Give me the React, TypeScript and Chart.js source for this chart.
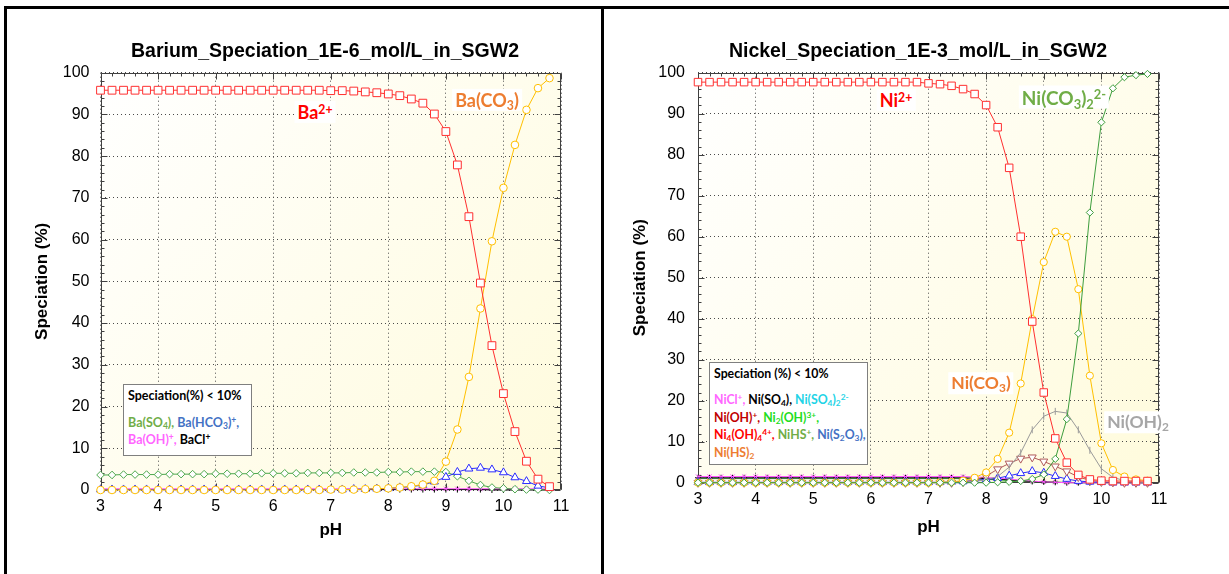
import React, { useEffect, useRef } from "react";
import { Chart, registerables } from "chart.js";
Chart.register(...registerables);

// ---------- DATA ----------
const PH = [3.0, 3.2, 3.4, 3.6, 3.8, 4.0, 4.2, 4.4, 4.6, 4.8, 5.0, 5.2, 5.4, 5.6, 5.8, 6.0, 6.2, 6.4, 6.6, 6.8, 7.0, 7.2, 7.4, 7.6, 7.8, 8.0, 8.2, 8.4, 8.6, 8.8, 9.0, 9.2, 9.4, 9.6, 9.8, 10.0, 10.2, 10.4, 10.6, 10.8];
const X_TICKS = [3, 4, 5, 6, 7, 8, 9, 10, 11];
const Y_TICKS = [0, 10, 20, 30, 40, 50, 60, 70, 80, 90, 100];

// Barium
const BA_2PLUS = [95.8, 95.8, 95.8, 95.8, 95.8, 95.8, 95.8, 95.8, 95.8, 95.8, 95.8, 95.8, 95.8, 95.8, 95.8, 95.8, 95.8, 95.8, 95.8, 95.8, 95.7, 95.7, 95.6, 95.4, 95.2, 94.9, 94.5, 93.7, 92.7, 90.1, 85.9, 77.9, 65.5, 49.6, 34.6, 23.1, 14.0, 6.9, 2.6, 0.8];
const BA_CO3 = [0.0, 0.0, 0.0, 0.0, 0.0, 0.0, 0.0, 0.0, 0.0, 0.0, 0.0, 0.0, 0.0, 0.0, 0.0, 0.0, 0.0, 0.0, 0.0, 0.0, 0.1, 0.1, 0.1, 0.2, 0.3, 0.4, 0.6, 0.9, 1.3, 2.2, 6.8, 14.5, 27.1, 43.5, 59.6, 72.4, 82.7, 91.1, 96.3, 98.7];
const BA_SO4 = [3.6, 3.6, 3.7, 3.7, 3.7, 3.7, 3.8, 3.8, 3.8, 3.8, 3.9, 3.9, 3.9, 3.9, 4.0, 4.0, 4.0, 4.0, 4.1, 4.1, 4.1, 4.1, 4.2, 4.2, 4.2, 4.3, 4.3, 4.4, 4.4, 4.4, 4.3, 3.3, 2.2, 1.2, 0.6, 0.4, 0.2, 0.1, 0.1, 0.0];
const BA_HCO3 = [0.1, 0.1, 0.1, 0.1, 0.1, 0.1, 0.1, 0.1, 0.1, 0.1, 0.1, 0.1, 0.1, 0.1, 0.1, 0.1, 0.1, 0.1, 0.1, 0.1, 0.1, 0.1, 0.2, 0.2, 0.3, 0.4, 0.6, 0.8, 1.2, 2.0, 3.1, 4.3, 5.1, 5.3, 4.9, 4.2, 3.0, 2.1, 1.0, 0.5];
const BA_OH = [0.3, 0.3, 0.3, 0.3, 0.3, 0.3, 0.3, 0.3, 0.3, 0.3, 0.3, 0.3, 0.3, 0.3, 0.3, 0.3, 0.3, 0.3, 0.3, 0.3, 0.3, 0.3, 0.3, 0.3, 0.3, 0.3, 0.3, 0.3, 0.3, 0.3, 0.3, 0.3, 0.3, 0.3, 0.3, 0.3, 0.3, 0.3, 0.3, 0.3];
const BA_CL = [0.1, 0.1, 0.1, 0.1, 0.1, 0.1, 0.1, 0.1, 0.1, 0.1, 0.1, 0.1, 0.1, 0.1, 0.1, 0.1, 0.1, 0.1, 0.1, 0.1, 0.1, 0.1, 0.1, 0.1, 0.1, 0.1, 0.1, 0.1, 0.1, 0.1, 0.1, 0.1, 0.1, 0.1, 0.0, 0.0, 0.0, 0.0, 0.0, 0.0];

// Nickel
const NI_2PLUS = [97.7, 97.7, 97.7, 97.7, 97.7, 97.7, 97.7, 97.7, 97.7, 97.7, 97.7, 97.7, 97.7, 97.7, 97.7, 97.7, 97.7, 97.7, 97.7, 97.7, 97.4, 97.2, 96.8, 96.0, 94.8, 92.1, 86.7, 76.8, 60.0, 39.3, 22.0, 10.8, 4.9, 1.9, 0.8, 0.5, 0.4, 0.4, 0.4, 0.4];
const NI_CO3 = [0.0, 0.0, 0.0, 0.0, 0.0, 0.0, 0.0, 0.0, 0.0, 0.0, 0.0, 0.0, 0.0, 0.0, 0.0, 0.0, 0.0, 0.0, 0.0, 0.0, 0.0, 0.1, 0.2, 0.5, 1.2, 2.5, 5.8, 12.2, 24.2, 39.9, 53.8, 61.2, 60.0, 47.2, 26.1, 9.6, 3.1, 1.5, 0.8, 0.5];
const NI_CO3_2 = [0.0, 0.0, 0.0, 0.0, 0.0, 0.0, 0.0, 0.0, 0.0, 0.0, 0.0, 0.0, 0.0, 0.0, 0.0, 0.0, 0.0, 0.0, 0.0, 0.0, 0.0, 0.0, 0.0, 0.0, 0.0, 0.0, 0.1, 0.2, 0.4, 0.9, 2.0, 5.8, 15.5, 36.4, 65.9, 87.9, 96.2, 98.9, 99.4, 99.7];
const NI_OH2 = [0.0, 0.0, 0.0, 0.0, 0.0, 0.0, 0.0, 0.0, 0.0, 0.0, 0.0, 0.0, 0.0, 0.0, 0.0, 0.0, 0.0, 0.0, 0.0, 0.0, 0.0, 0.0, 0.0, 0.0, 0.3, 0.7, 1.5, 3.8, 7.3, 12.9, 16.2, 17.4, 17.0, 12.9, 7.9, 3.4, 1.3, 0.5, 0.2, 0.1];
const NI_OHP = [0.0, 0.0, 0.0, 0.0, 0.0, 0.0, 0.0, 0.0, 0.0, 0.0, 0.0, 0.0, 0.0, 0.0, 0.0, 0.0, 0.0, 0.0, 0.0, 0.0, 0.0, 0.0, 0.0, 0.2, 0.6, 1.6, 3.3, 4.7, 5.9, 6.2, 5.2, 4.0, 2.8, 1.4, 0.6, 0.2, 0.1, 0.0, 0.0, 0.0];
const NI_HCO3 = [0.1, 0.1, 0.1, 0.1, 0.1, 0.1, 0.1, 0.1, 0.1, 0.1, 0.1, 0.1, 0.1, 0.1, 0.1, 0.1, 0.1, 0.1, 0.1, 0.1, 0.1, 0.1, 0.2, 0.3, 0.5, 0.8, 1.1, 1.7, 2.3, 2.8, 2.4, 1.6, 0.9, 0.4, 0.2, 0.1, 0.0, 0.0, 0.0, 0.0];
const NI_CL = [1.5, 1.5, 1.5, 1.5, 1.5, 1.5, 1.5, 1.5, 1.5, 1.5, 1.5, 1.5, 1.5, 1.5, 1.5, 1.5, 1.5, 1.5, 1.5, 1.5, 1.5, 1.5, 1.5, 1.5, 1.4, 1.3, 1.1, 0.9, 0.6, 0.4, 0.2, 0.1, 0.0, 0.0, 0.0, 0.0, 0.0, 0.0, 0.0, 0.0];
const NI_SO4 = [1.2, 1.2, 1.2, 1.2, 1.2, 1.2, 1.2, 1.2, 1.2, 1.2, 1.2, 1.2, 1.2, 1.2, 1.2, 1.2, 1.2, 1.2, 1.2, 1.2, 1.2, 1.2, 1.2, 1.2, 1.1, 1.0, 0.9, 0.7, 0.5, 0.3, 0.2, 0.1, 0.0, 0.0, 0.0, 0.0, 0.0, 0.0, 0.0, 0.0];
const NI_HS = [1.0, 1.0, 1.0, 1.0, 1.0, 1.0, 1.0, 1.0, 1.0, 1.0, 1.0, 1.0, 1.0, 1.0, 1.0, 1.0, 1.0, 1.0, 1.0, 1.0, 1.0, 1.0, 1.0, 1.0, 0.9, 0.8, 0.7, 0.5, 0.4, 0.3, 0.2, 0.1, 0.1, 0.0, 0.0, 0.0, 0.0, 0.0, 0.0, 0.0];

// ---------- helpers ----------
const FONT = "'Liberation Sans', Arial, sans-serif";
const LBL = "Lato, 'Open Sans', sans-serif";

const pts = (vals: number[]) => PH.map((x, i) => ({ x, y: vals[i] }));

function series(label: string, vals: number[], color: string, style: string, radius: number, extra: any = {}) {
  return {
    label,
    data: pts(vals),
    borderColor: color,
    backgroundColor: color,
    borderWidth: 1,
    pointStyle: style,
    pointRadius: radius,
    pointBorderColor: color,
    pointBackgroundColor: "#ffffff",
    pointBorderWidth: 1,
    tension: 0,
    clip: false,
    ...extra,
  };
}

const framePlugin = {
  id: "frameTicks",
  beforeDraw(chart: any) {
    const { ctx, chartArea: a } = chart;
    const g = ctx.createLinearGradient(a.left, a.top, a.right, a.bottom);
    g.addColorStop(0, "#FFFFFF");
    g.addColorStop(1, "#FFFBDC");
    ctx.save();
    ctx.fillStyle = g;
    ctx.fillRect(a.left, a.top, a.right - a.left, a.bottom - a.top);
    ctx.restore();
  },
  beforeDatasetsDraw(chart: any) {
    const { ctx, chartArea: a, scales } = chart;
    const xs = scales.x;
    const ys = scales.y;
    ctx.save();
    ctx.strokeStyle = "#404040";
    ctx.lineWidth = 1;
    const L = Math.round(a.left) + 0.5, R = Math.round(a.right) - 0.5;
    const T = Math.round(a.top) + 0.5, B = Math.round(a.bottom) - 0.5;
    ctx.beginPath();
    ctx.rect(L, T, R - L, B - T);
    ctx.stroke();
    ctx.beginPath();
    for (let k = 0; k <= 50; k++) {
      const y = Math.round(ys.getPixelForValue(k * 2)) + 0.5;
      const len = k % 5 === 0 ? 6 : 3;
      ctx.moveTo(L, y); ctx.lineTo(L + len, y);
      ctx.moveTo(R, y); ctx.lineTo(R - len, y);
    }
    for (let k = 0; k <= 40; k++) {
      const x = Math.round(xs.getPixelForValue(3 + k * 0.2)) + 0.5;
      const len = k % 5 === 0 ? 6 : 3;
      ctx.moveTo(x, T); ctx.lineTo(x, T + len);
      ctx.moveTo(x, B); ctx.lineTo(x, B - len);
    }
    ctx.stroke();
    ctx.restore();
  },
};

type Geo = {
  title: string;
  padLeft: number;
  yWidth: number;
  rWidth: number;
  xHeight: number;
  xTitlePad: number;
  yTickPad: number;
};

function makeConfig(datasets: any[], g: Geo): any {
  const tickFont = { family: FONT, size: 16 };
  const titleFont = { family: FONT, size: 17, weight: "bold" };
  return {
    type: "line",
    data: { datasets },
    plugins: [framePlugin],
    options: {
      animation: false,
      responsive: false,
      events: [],
      layout: { padding: { left: g.padLeft, right: 0, top: 0, bottom: 0 } },
      plugins: {
        legend: { display: false },
        tooltip: { enabled: false },
        title: {
          display: true,
          text: g.title,
          color: "#000",
          font: { family: FONT, size: 19.5, weight: "bold" },
          padding: { top: 28.3, bottom: 9 },
        },
      },
      scales: {
        x: {
          type: "linear",
          min: X_TICKS[0],
          max: X_TICKS[X_TICKS.length - 1],
          afterBuildTicks: (s: any) => { s.ticks = X_TICKS.map((v) => ({ value: v })); },
          ticks: { color: "#000", font: tickFont, padding: 7 },
          grid: { color: "#4a4a4a", lineWidth: 1, drawTicks: false },
          border: { display: false, dash: [1, 3] },
          title: { display: true, text: "pH", color: "#000", font: titleFont, padding: { top: 0, bottom: g.xTitlePad } },
          afterFit: (s: any) => { s.height = g.xHeight; },
        },
        y: {
          type: "linear",
          position: "left",
          min: Y_TICKS[0],
          max: Y_TICKS[Y_TICKS.length - 1],
          afterBuildTicks: (s: any) => { s.ticks = Y_TICKS.map((v) => ({ value: v })); },
          ticks: { color: "#000", font: tickFont, padding: g.yTickPad },
          grid: { color: "#4a4a4a", lineWidth: 1, drawTicks: false },
          border: { display: false, dash: [1, 3] },
          title: { display: true, text: "Speciation (%)", color: "#000", font: titleFont, padding: { top: 7.8, bottom: 0 } },
          afterFit: (s: any) => { s.width = g.yWidth; },
        },
        yR: {
          type: "linear",
          position: "right",
          min: 0,
          max: 100,
          display: true,
          ticks: { display: false },
          grid: { display: false },
          border: { display: false },
          afterFit: (s: any) => { s.width = g.rWidth; },
        },
      },
    },
  };
}

function ChartBox({ left, top, width, height, config }: any) {
  const ref = useRef<HTMLCanvasElement>(null);
  useEffect(() => {
    const chart = new Chart(ref.current as HTMLCanvasElement, config());
    return () => chart.destroy();
  }, []);
  return (
    <canvas
      ref={ref}
      width={width}
      height={height}
      style={{ position: "absolute", left, top, width, height }}
    />
  );
}

const sub = (t: string) => <span style={{ fontSize: "0.68em", position: "relative", top: "0.28em" }}>{t}</span>;
const sup = (t: string) => <span style={{ fontSize: "0.68em", position: "relative", top: "-0.45em" }}>{t}</span>;

function Tag({ x, y, color, size, children }: any) {
  return (
    <div
      style={{
        position: "absolute",
        left: x,
        top: y,
        transform: "translate(-50%, -50%)",
        color,
        fontFamily: LBL,
        fontWeight: 700,
        fontSize: size,
        lineHeight: 1,
        background: "#fff",
        padding: "2px 3px",
        whiteSpace: "nowrap",
      }}
    >
      {children}
    </div>
  );
}

function Line({ y, children }: any) {
  return (
    <div style={{ position: "absolute", left: 4, top: y, lineHeight: 1, whiteSpace: "nowrap", transform: "translateY(-50%)" }}>
      {children}
    </div>
  );
}

const c = (color: string, node: any) => <span style={{ color }}>{node}</span>;

const baConfig = () =>
  makeConfig(
    [
      series("Ba2+", BA_2PLUS, "#FF3030", "rect", 5.5),
      series("Ba(CO3)", BA_CO3, "#FFC000", "circle", 3.8),
      series("Ba(HCO3)+", BA_HCO3, "#2B2BFF", "triangle", 4.6),
      series("Ba(SO4)", BA_SO4, "#4EA84E", "rectRot", 3.8),
      series("Ba(OH)+", BA_OH, "#FF55FF", "crossRot", 3),
      series("BaCl+", BA_CL, "#000000", "cross", 3),
    ],
    { title: "Barium_Speciation_1E-6_mol/L_in_SGW2", padLeft: 16, yWidth: 76.5, rWidth: 65, xHeight: 84, xTitlePad: 33.8, yTickPad: 11 }
  );

const niConfig = () =>
  makeConfig(
    [
      series("Ni2+", NI_2PLUS, "#FF3030", "rect", 5.3),
      series("Ni(CO3)2 2-", NI_CO3_2, "#3E9E3E", "rectRot", 3.6),
      series("Ni(CO3)", NI_CO3, "#FFC000", "circle", 3.6),
      series("Ni(OH)2", NI_OH2, "#9A9A9A", "line", 3.5, { rotation: 90 }),
      series("Ni(OH)+", NI_OHP, "#B05A5A", "triangle", 4.6, { rotation: 180 }),
      series("Ni(HCO3)+", NI_HCO3, "#2B2BFF", "triangle", 4.6),
      series("NiCl+", NI_CL, "#FF55FF", "crossRot", 3),
      series("Ni(SO4)", NI_SO4, "#000000", "cross", 3),
      series("NiHS+", NI_HS, "#3E9E3E", "triangle", 2.5),
    ],
    { title: "Nickel_Speciation_1E-3_mol/L_in_SGW2", padLeft: 17, yWidth: 76, rWidth: 55, xHeight: 91.3, xTitlePad: 36.8, yTickPad: 13 }
  );

export default function App() {
  return (
    <div style={{ position: "fixed", left: 0, top: 0, width: 1229, height: 574, background: "#fff", overflow: "hidden" }}>
      <ChartBox left={8} top={12} width={618} height={562} config={baConfig} />
      <ChartBox left={605} top={12} width={609} height={562} config={niConfig} />

      {/* frame lines */}
      <div style={{ position: "absolute", left: 4, top: 6, width: 1225, height: 3, background: "#000" }} />
      <div style={{ position: "absolute", left: 4, top: 6, width: 3, height: 568, background: "#000" }} />
      <div style={{ position: "absolute", left: 601, top: 6, width: 3, height: 568, background: "#000" }} />

      {/* Barium labels */}
      <Tag x={315} y={112} color="#FF0000" size={18}>Ba{sup("2+")}</Tag>
      <Tag x={487} y={100} color="#ED7D31" size={18}>Ba(CO{sub("3")})</Tag>

      {/* Nickel labels */}
      <Tag x={896} y={100} color="#FF0000" size={18}>Ni{sup("2+")}</Tag>
      <Tag x={1064} y={97} color="#70AD47" size={19}>Ni(CO{sub("3")}){sub("2")}{sup("2-")}</Tag>
      <Tag x={981} y={383} color="#ED7D31" size={17.5}>Ni(CO{sub("3")})</Tag>
      <Tag x={1138} y={422} color="#A6A6A6" size={17.5}>Ni(OH){sub("2")}</Tag>

      {/* Barium minor-species box */}
      <div style={{ position: "absolute", left: 123, top: 384, width: 127, height: 70, background: "#fff", border: "1px solid #7F7F7F", fontFamily: LBL, fontWeight: 700, fontSize: 12.5 }}>
        <Line y={11}>Speciation(%) &lt; 10%</Line>
        <Line y={38}>{c("#70AD47", <>Ba(SO{sub("4")}), </>)}{c("#4472C4", <>Ba(HCO{sub("3")}){sup("+")},</>)}</Line>
        <Line y={55}>{c("#FF66FF", <>Ba(OH){sup("+")}, </>)}{c("#000", <>BaCl{sup("+")}</>)}</Line>
      </div>

      {/* Nickel minor-species box */}
      <div style={{ position: "absolute", left: 709, top: 362, width: 157, height: 101, background: "#fff", border: "1px solid #7F7F7F", fontFamily: LBL, fontWeight: 700, fontSize: 12.3 }}>
        <Line y={11}>Speciation (%) &lt; 10%</Line>
        <Line y={37}>{c("#FF66FF", <>NiCl{sup("+")}, </>)}{c("#000", <>Ni(SO{sub("4")}), </>)}{c("#22D3E6", <>Ni(SO{sub("4")}){sub("2")}{sup("2-")}</>)}</Line>
        <Line y={55}>{c("#C00000", <>Ni(OH){sup("+")}, </>)}{c("#22DD22", <>Ni{sub("2")}(OH){sup("3+")},</>)}</Line>
        <Line y={72}>{c("#FF0000", <>Ni{sub("4")}(OH){sub("4")}{sup("4+")}, </>)}{c("#70AD47", <>NiHS{sup("+")}, </>)}{c("#4472C4", <>Ni(S{sub("2")}O{sub("3")}),</>)}</Line>
        <Line y={90}>{c("#ED7D31", <>Ni(HS){sub("2")}</>)}</Line>
      </div>
    </div>
  );
}
